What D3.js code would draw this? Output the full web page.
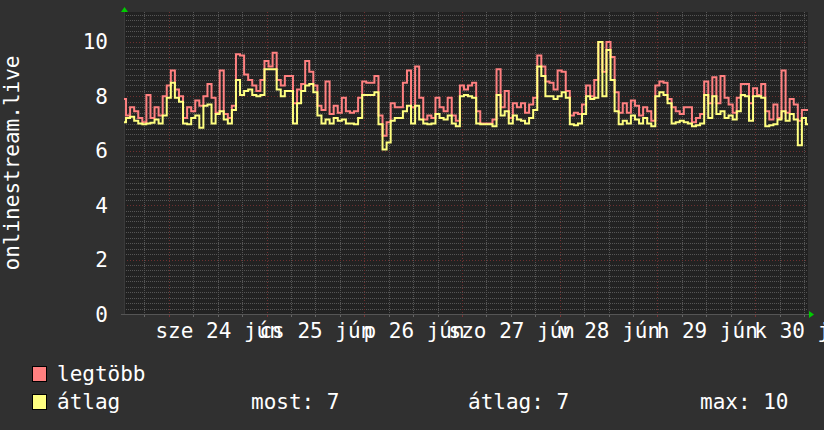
<!DOCTYPE html>
<html>
<head>
<meta charset="utf-8">
<script src="https://cdn.jsdelivr.net/npm/d3@7/dist/d3.min.js"></script>
<style>
body { margin: 0; background: #303030; }
svg text { font-family: "DejaVu Sans Mono", monospace; fill: #ffffff; }
</style>
</head>
<body>
<svg id="chart" width="824" height="430"></svg>
<script>
// one value per hour, starting 2020-06-23 13:00
const startTime = new Date(2020, 5, 23, 13, 0);

const maxValues = [
  7.9, 7.3, 7.6, 7.45, 7.2, 7.05, 8.05, 7.2, 7.6, 7.3,
  8.0, 8.4, 8.95, 8.25, 8.0, 7.2, 7.6, 7.45, 7.85, 7.65,
  8.0, 8.45, 7.95, 7.4, 8.95, 7.35, 7.2, 7.65, 9.55, 9.5,
  8.8, 8.6, 8.4, 8.2, 8.6, 9.3, 9.1, 9.6, 8.6, 8.4,
  8.75, 8.75, 7.75, 8.25, 8.45, 9.3, 8.9, 8.4, 7.65, 7.5,
  8.55, 7.35, 7.65, 7.4, 7.95, 7.45, 7.4, 7.45, 7.95, 8.55,
  8.5, 8.5, 8.75, 7.3, 6.55, 7.05, 7.75, 7.6, 7.6, 8.5,
  8.95, 7.6, 9.1, 7.95, 7.15, 7.3, 7.2, 7.95, 7.6, 7.45,
  7.95, 7.3, 7.1, 8.4, 8.25, 8.4, 8.5, 7.45, 7.0, 7.0,
  7.0, 7.15, 9.0, 7.6, 8.2, 7.2, 7.75, 7.6, 7.75, 7.4,
  7.7, 7.95, 9.5, 9.1, 8.55, 8.5, 8.25, 8.95, 8.9, 8.2,
  7.3, 7.4, 7.35, 7.7, 8.4, 8.0, 8.6, 10.0, 8.9, 10.0,
  9.45, 8.15, 7.4, 7.75, 7.4, 7.85, 7.65, 7.3, 7.6, 7.45,
  7.1, 8.4, 8.55, 8.5, 7.9, 7.6, 7.45, 7.35, 7.6, 7.6,
  7.05, 7.2, 7.35, 8.55, 7.75, 8.7, 7.75, 8.75, 7.95, 7.7,
  7.4, 7.95, 8.45, 8.45, 7.75, 8.3, 8.05, 8.45, 7.45, 7.15,
  7.7, 7.2, 8.95, 7.4, 7.9, 7.7, 7.1, 7.5, 7.5
];

const avgValues = [
  7.05, 7.2, 7.25, 7.1, 7.0, 6.97, 7.0, 7.03, 7.15, 7.0,
  7.3, 7.95, 8.5, 7.95, 7.8, 7.0, 6.97, 7.2, 7.3, 6.85,
  7.65, 7.7, 7.0, 7.35, 7.45, 7.15, 7.0, 7.5, 8.6, 8.05,
  8.2, 8.25, 8.05, 8.0, 8.05, 9.0, 9.0, 9.0, 8.25, 8.0,
  8.2, 8.2, 7.0, 7.75, 8.2, 8.4, 8.45, 8.15, 7.3, 7.0,
  7.15, 7.0, 7.2, 7.1, 7.15, 7.0, 7.0, 6.97, 7.2, 8.05,
  8.05, 8.05, 8.15, 6.97, 6.05, 6.3, 7.1, 7.2, 7.2, 7.45,
  7.65, 7.0, 7.65, 7.15, 7.0, 6.97, 7.0, 7.35, 7.2, 7.15,
  7.3, 7.0, 6.9, 8.0, 8.05, 8.0, 7.95, 7.0, 6.97, 6.97,
  6.97, 6.9, 8.05, 7.3, 7.45, 7.0, 7.3, 7.15, 7.1, 7.0,
  7.2, 7.5, 9.1, 8.75, 8.0, 8.0, 7.9, 8.0, 8.15, 7.95,
  6.97, 6.94, 7.0, 7.35, 8.0, 7.9, 7.95, 10.0, 8.0, 9.7,
  8.6, 7.45, 6.97, 7.1, 7.0, 7.3, 7.15, 7.0, 7.2, 7.0,
  6.9, 8.0, 8.15, 8.05, 7.75, 7.0, 7.05, 7.1, 7.05, 7.0,
  6.9, 6.94, 7.0, 8.05, 7.2, 8.0, 7.35, 7.45, 7.2, 7.3,
  7.15, 7.45, 8.05, 8.0, 7.1, 8.0, 8.0, 7.95, 6.9, 6.94,
  6.97, 7.15, 7.45, 7.1, 7.35, 7.15, 6.2, 7.2, 6.97
];

const yTicks = [0, 2, 4, 6, 8, 10];
const seriesNames = ["legtöbb", "átlag"];
const seriesColors = ["#ff8080", "#ffff80"];
const statLabels = ["most: 7", "átlag: 7", "max: 10"];
const axisTitle = "onlinestream.live";

const hu = d3.timeFormatLocale({
  dateTime: "%Y. %B %-e. %X", date: "%Y. %m. %d.", time: "%H:%M:%S",
  periods: ["de.", "du."],
  days: ["vasárnap", "hétfő", "kedd", "szerda", "csütörtök", "péntek", "szombat"],
  shortDays: ["v", "h", "k", "sze", "cs", "p", "szo"],
  months: ["január", "február", "március", "április", "május", "június",
           "július", "augusztus", "szeptember", "október", "november", "december"],
  shortMonths: ["jan", "febr", "márc", "ápr", "máj", "jún", "júl", "aug", "szept", "okt", "nov", "dec"]
});
const dayFormat = hu.format("%a %d %b");

const svg = d3.select("#chart");
const plotLeft = 124, plotRight = 808, plotTop = 12, plotBottom = 314;

const hourTime = i => d3.timeHour.offset(startTime, i);
const endTime = hourTime(maxValues.length - 1);

const x = d3.scaleTime().domain([startTime, endTime]).range([plotLeft, plotRight]);
const y = d3.scaleLinear().domain([0, 11.1]).range([plotBottom, plotTop]);
const px = v => Math.round(v) + 0.5;

// plot background
svg.append("rect")
  .attr("x", plotLeft).attr("y", plotTop)
  .attr("width", plotRight - plotLeft).attr("height", plotBottom - plotTop)
  .attr("fill", "#222222");

const grid = svg.append("g").attr("shape-rendering", "crispEdges");

// minor horizontal grid every 0.2
const minorY = d3.range(0, 11.01, 0.2).filter(v => Math.abs(v / 2 - Math.round(v / 2)) > 0.01);
grid.selectAll(".hminor").data(minorY).enter().append("line")
  .attr("x1", plotLeft).attr("x2", plotRight)
  .attr("y1", d => px(y(d))).attr("y2", d => px(y(d)))
  .attr("stroke", "#555555").attr("stroke-dasharray", "1,1");

// minor vertical grid every 6 hours
const sixHours = d3.timeHour.every(6).range(startTime, endTime);
grid.selectAll(".vminor").data(sixHours.filter(d => d.getHours() !== 0)).enter().append("line")
  .attr("x1", d => px(x(d))).attr("x2", d => px(x(d)))
  .attr("y1", plotTop).attr("y2", plotBottom)
  .attr("stroke", "#555555").attr("stroke-dasharray", "1,1");

// major grid (dim red, dotted)
grid.selectAll(".hmajor").data(yTicks.slice(1)).enter().append("line")
  .attr("x1", plotLeft).attr("x2", plotRight)
  .attr("y1", d => px(y(d))).attr("y2", d => px(y(d)))
  .attr("stroke", "#6e3030").attr("stroke-dasharray", "1,2");

const days = d3.timeDay.range(startTime, endTime);
grid.selectAll(".vmajor").data(days).enter().append("line")
  .attr("x1", d => px(x(d))).attr("x2", d => px(x(d)))
  .attr("y1", plotTop).attr("y2", plotBottom)
  .attr("stroke", "#6e3030").attr("stroke-dasharray", "1,2");

// small ticks under the x axis
grid.selectAll(".xtick").data(sixHours).enter().append("line")
  .attr("x1", d => px(x(d))).attr("x2", d => px(x(d)))
  .attr("y1", plotBottom).attr("y2", plotBottom + 3)
  .attr("stroke", d => d.getHours() === 0 ? "#7a3434" : "#666");

// axes
grid.append("line").attr("x1", plotLeft - 3).attr("x2", plotRight + 2)
  .attr("y1", plotBottom + 0.5).attr("y2", plotBottom + 0.5).attr("stroke", "#555");
grid.append("line").attr("x1", plotLeft + 0.5).attr("x2", plotLeft + 0.5)
  .attr("y1", plotTop - 2).attr("y2", plotBottom).attr("stroke", "#3a3a3a");

// arrows
svg.append("path")
  .attr("d", `M${plotLeft - 3},${plotTop} L${plotLeft + 4},${plotTop} L${plotLeft + 0.5},${plotTop - 5} Z`)
  .attr("fill", "#00cc00");
svg.append("path")
  .attr("d", `M${plotRight + 1},${plotBottom - 3} L${plotRight + 1},${plotBottom + 4} L${plotRight + 6},${plotBottom + 0.5} Z`)
  .attr("fill", "#00cc00");

// y tick labels
svg.selectAll(".ylab").data(yTicks).enter().append("text")
  .attr("x", 108).attr("y", d => y(d) + 7.5)
  .attr("text-anchor", "end").attr("font-size", 21)
  .text(d => d);

// x labels, centered at noon of each day (they overlap, as in rrdtool)
const noons = days.map(d => d3.timeHour.offset(d, 12)).filter(d => d > startTime && d < endTime);
svg.selectAll(".xlab").data(noons).enter().append("text")
  .attr("x", d => x(d) + 1).attr("y", 338)
  .attr("text-anchor", "middle").attr("font-size", 21)
  .text(d => dayFormat(d));

// y axis title
svg.append("text")
  .attr("transform", `translate(19,${(plotTop + plotBottom) / 2}) rotate(-90)`)
  .attr("text-anchor", "middle").attr("font-size", 21)
  .text(axisTitle);

// series
svg.append("clipPath").attr("id", "plotclip").append("rect")
  .attr("x", plotLeft).attr("y", plotTop)
  .attr("width", plotRight - plotLeft).attr("height", plotBottom - plotTop);
const plot = svg.append("g").attr("clip-path", "url(#plotclip)");

const line = d3.line()
  .x((d, i) => x(hourTime(i)))
  .y(d => y(d))
  .curve(d3.curveStep);

[maxValues, avgValues].forEach((vals, k) => {
  plot.append("path")
    .datum(vals)
    .attr("d", line)
    .attr("fill", "none")
    .attr("stroke", seriesColors[k])
    .attr("stroke-width", 2);
});

// legend
const legend = svg.append("g");
seriesNames.forEach((name, k) => {
  const ly = 366 + k * 28;
  legend.append("rect")
    .attr("x", 32.5).attr("y", ly + 0.5).attr("width", 14).attr("height", 15)
    .attr("fill", seriesColors[k]).attr("stroke", "#000");
  legend.append("text")
    .attr("x", 57).attr("y", ly + 15)
    .attr("font-size", 21)
    .text(name);
});
const statX = [251, 468, 700];
legend.selectAll(".stat").data(statLabels).enter().append("text")
  .attr("x", (d, i) => statX[i]).attr("y", 409)
  .attr("font-size", 21)
  .text(d => d);
</script>
</body>
</html>
